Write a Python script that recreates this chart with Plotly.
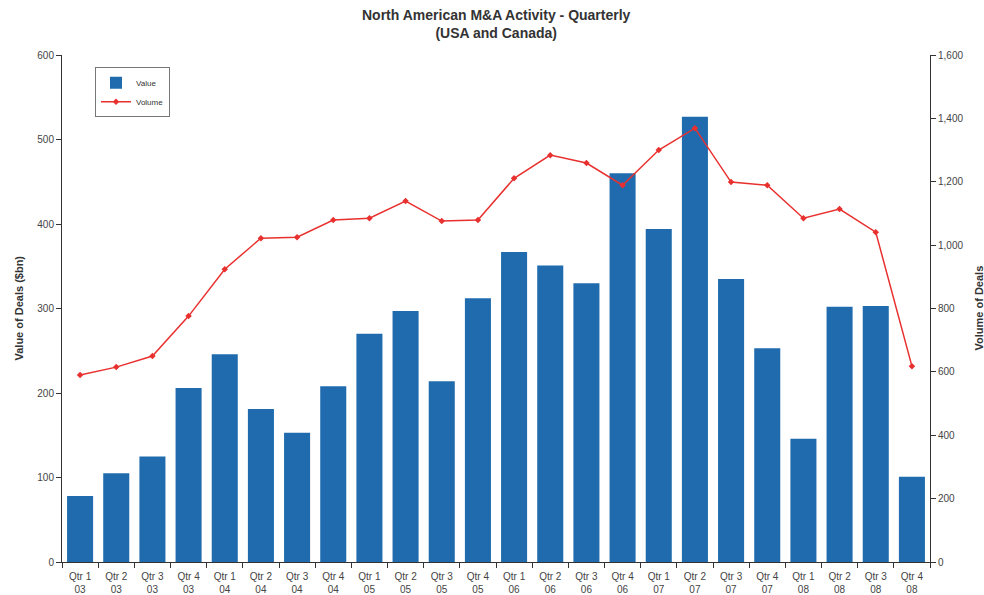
import plotly.graph_objects as go

quarters = ["Qtr 1<br>03","Qtr 2<br>03","Qtr 3<br>03","Qtr 4<br>03",
            "Qtr 1<br>04","Qtr 2<br>04","Qtr 3<br>04","Qtr 4<br>04",
            "Qtr 1<br>05","Qtr 2<br>05","Qtr 3<br>05","Qtr 4<br>05",
            "Qtr 1<br>06","Qtr 2<br>06","Qtr 3<br>06","Qtr 4<br>06",
            "Qtr 1<br>07","Qtr 2<br>07","Qtr 3<br>07","Qtr 4<br>07",
            "Qtr 1<br>08","Qtr 2<br>08","Qtr 3<br>08","Qtr 4<br>08"]
value_bn = [78, 105, 125, 206, 246, 181, 153, 208, 270, 297, 214, 312,
            367, 351, 330, 460, 394, 527, 335, 253, 146, 302, 303, 101]
volume = [590, 615, 650, 776, 924, 1022, 1025, 1079, 1085, 1139, 1076, 1079,
          1211, 1284, 1259, 1189, 1300, 1369, 1199, 1189, 1085, 1114, 1041, 618]

font_family = "Liberation Sans, Arial, sans-serif"
fig = go.Figure()
fig.add_trace(go.Bar(x=quarters, y=value_bn, name="Value",
                     marker=dict(color="#1f6bae", line=dict(width=0)),
                     yaxis="y"))
fig.add_trace(go.Scatter(x=quarters, y=volume, name="Volume", mode="lines+markers",
                         line=dict(color="#e8312f", width=1.5),
                         marker=dict(symbol="diamond", size=5, color="#e8312f"),
                         yaxis="y2"))

fig.update_layout(
    width=984, height=595,
    margin=dict(l=62, r=54, t=55, b=33, autoexpand=False),
    paper_bgcolor="white", plot_bgcolor="white",
    font=dict(family=font_family, size=10, color="#333333"),
    bargap=0.28,
    showlegend=True,
    legend=dict(x=0.038, y=0.976, xanchor="left", yanchor="top",
                bgcolor="white", bordercolor="#777777", borderwidth=1,
                font=dict(size=8, color="#333333"), tracegroupgap=0,
                itemwidth=30),
    xaxis=dict(type="category", range=[-0.5, len(quarters) - 0.5],
               tickson="boundaries", ticks="outside", ticklen=5,
               tickcolor="#333333", showline=True, linecolor="#333333",
               showgrid=False, automargin=False, ticklabelstandoff=5,
               tickfont=dict(size=10, color="#444444")),
    yaxis=dict(range=[0, 600], dtick=100, ticks="outside", ticklen=5,
               tickcolor="#333333", showline=True, linecolor="#333333",
               showgrid=False, zeroline=False, automargin=False,
               tickfont=dict(size=10, color="#444444")),
    yaxis2=dict(range=[0, 1600], dtick=200, overlaying="y", side="right",
                ticks="outside", ticklen=5, tickcolor="#333333", showline=True,
                linecolor="#333333", showgrid=False, zeroline=False, automargin=False,
                tickformat=",d",
                tickfont=dict(size=10, color="#444444")),
    annotations=[
        dict(text="<b>North American M&A Activity - Quarterly<br>(USA and Canada)</b>",
             xref="paper", yref="paper", x=0.5, y=1, yshift=12,
             xanchor="center", yanchor="bottom", showarrow=False,
             font=dict(size=14, color="#333333")),
        dict(text="<b>Value of Deals ($bn)</b>", xref="paper", yref="paper",
             x=0, y=0.5, xshift=-44, textangle=-90, showarrow=False,
             xanchor="center", yanchor="middle", font=dict(size=11, color="#333333")),
        dict(text="<b>Volume of Deals</b>", xref="paper", yref="paper",
             x=1, y=0.5, xshift=48, textangle=-90, showarrow=False,
             xanchor="center", yanchor="middle", font=dict(size=11, color="#333333")),
    ],
)
fig.write_html("out.html", config={"displayModeBar": False},
               post_script="document.body.style.margin='0';document.body.style.overflow='hidden';")
